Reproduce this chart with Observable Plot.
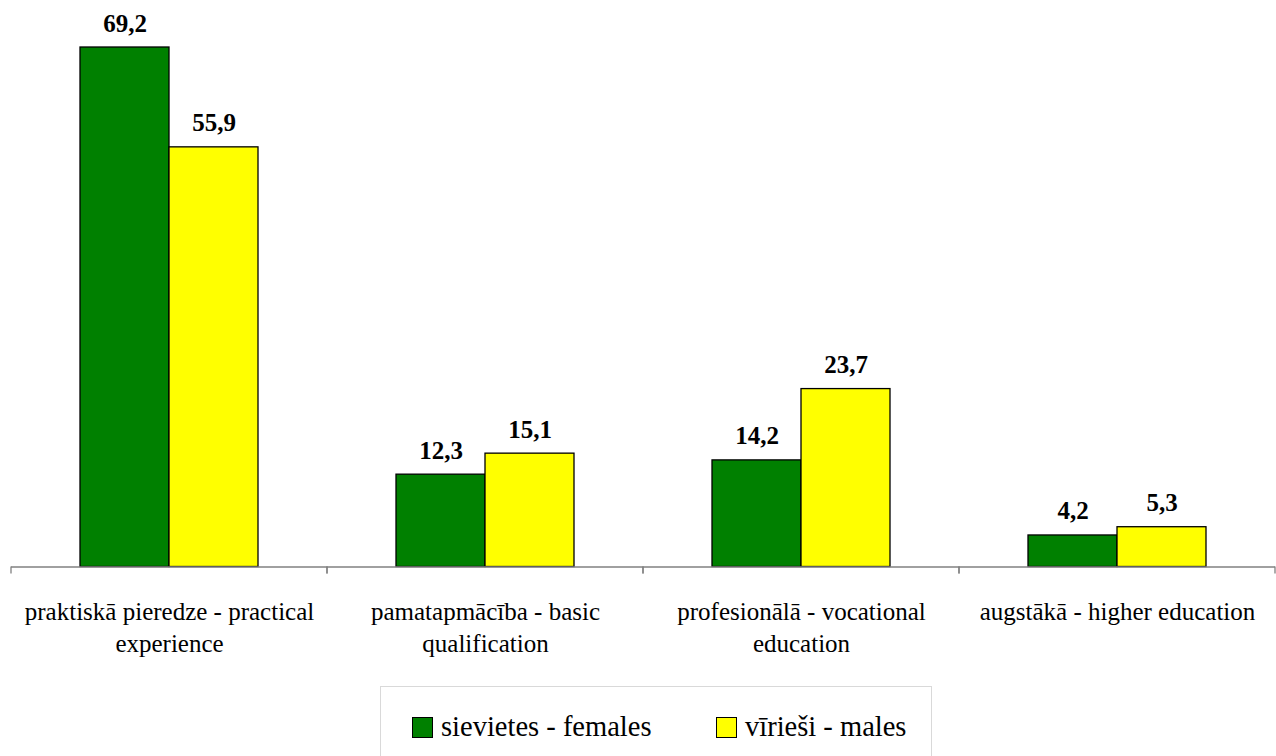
<!DOCTYPE html>
<html>
<head>
<meta charset="utf-8">
<script src="https://cdn.jsdelivr.net/npm/d3@7"></script>
<script src="https://cdn.jsdelivr.net/npm/@observablehq/plot@0.6"></script>
<style>
  html, body { margin: 0; padding: 0; background: #fff; overflow: hidden; }
  #wrap { position: relative; width: 1276px; height: 756px; font-family: "Liberation Serif", "Tinos", "Times New Roman", "DejaVu Serif", "Noto Serif", serif; }
  #chart svg { display: block; overflow: visible; }
  #legend { position: absolute; left: 380px; top: 686px; width: 552px; height: 90px; border: 1px solid #d9d9d9; box-sizing: border-box; }
  .item { position: absolute; top: 24px; display: flex; align-items: center; font-size: 28.5px; color: #000; white-space: nowrap; }
  .sw { width: 19px; height: 19px; border: 1.5px solid #000; margin-right: 8px; }
</style>
</head>
<body>
<div id="wrap">
  <div id="chart"></div>
  <div id="legend"></div>
</div>
<script>
const categories = ["praktiskā pieredze", "pamatapmācība", "profesionālā", "augstākā"];
const categoryLabels = [
  "praktiskā pieredze - practical\nexperience",
  "pamatapmācība - basic\nqualification",
  "profesionālā - vocational\neducation",
  "augstākā - higher education"
];
const series = ["sievietes - females", "vīrieši - males"];
const females = [69.2, 12.3, 14.2, 4.2];
const males = [55.9, 15.1, 23.7, 5.3];
const colors = ["#008000", "#ffff00"];

const data = categories.flatMap((c, i) => [
  {cat: c, series: series[0], value: females[i]},
  {cat: c, series: series[1], value: males[i]}
]);
const labelOf = Object.fromEntries(categories.map((c, i) => [c, categoryLabels[i]]));
const fmt = v => v.toFixed(1).replace(".", ",");
const serifStack = "Liberation Serif, Tinos, Times New Roman, DejaVu Serif, Noto Serif, serif";

const tickMark = (index, scales, values, dimensions) => {
  const g = d3.create("svg:g");
  const y0 = dimensions.height - dimensions.marginBottom;
  for (const x of [dimensions.marginLeft, dimensions.width - dimensions.marginRight]) {
    g.append("line")
      .attr("x1", x).attr("x2", x)
      .attr("y1", y0).attr("y2", y0 + 7)
      .attr("stroke", "#808080").attr("stroke-width", 1.3);
  }
  return g.node();
};

const chart = Plot.plot({
  width: 1276,
  height: 680,
  marginLeft: 10,
  marginRight: 0,
  marginTop: 47,
  marginBottom: 113.5,
  style: {fontFamily: serifStack, background: "transparent", color: "#000"},
  fx: {domain: categories, padding: 0, axis: null},
  x: {domain: series, paddingInner: 0, paddingOuter: 0.758, axis: null},
  y: {domain: [0, d3.max([...females, ...males])], axis: null},
  color: {domain: series, range: colors},
  marks: [
    Plot.barY(data, {fx: "cat", x: "series", y: "value", fill: "series", stroke: "#000", strokeWidth: 1.3}),
    Plot.ruleY([0], {stroke: "#808080", strokeWidth: 1.3}),
    tickMark,
    Plot.text(data, {fx: "cat", x: "series", y: "value", text: d => fmt(d.value), dy: -16, lineAnchor: "bottom", fontWeight: "bold", fontSize: 25, fontFamily: serifStack, fill: "#000"}),
    Plot.text(categories, {fx: d => d, text: d => labelOf[d], frameAnchor: "bottom", lineAnchor: "top", dy: 30.75, fontSize: 25, lineHeight: 1.26, fontFamily: serifStack, fill: "#000"})
  ]
});
document.getElementById("chart").appendChild(chart);

const legend = document.getElementById("legend");
const lefts = [31, 335];
series.forEach((s, i) => {
  const item = document.createElement("div");
  item.className = "item";
  item.style.left = lefts[i] + "px";
  const sw = document.createElement("div");
  sw.className = "sw";
  sw.style.background = colors[i];
  const t = document.createElement("span");
  t.textContent = s;
  item.appendChild(sw);
  item.appendChild(t);
  legend.appendChild(item);
});
</script>
</body>
</html>
